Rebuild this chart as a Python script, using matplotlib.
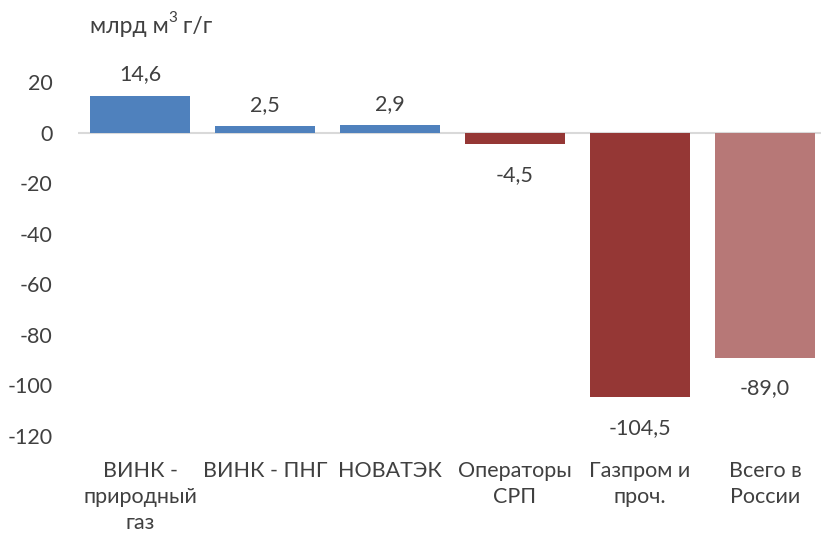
import matplotlib
matplotlib.use("Agg")
import matplotlib.pyplot as plt

categories = ["ВИНК -\nприродный\nгаз", "ВИНК - ПНГ", "НОВАТЭК", "Операторы\nСРП", "Газпром и\nпроч.", "Всего в\nРоссии"]
values = [14.6, 2.5, 2.9, -4.5, -104.5, -89.0]
colors = ["#4F81BD", "#4F81BD", "#4F81BD", "#953735", "#953735", "#B77877"]
yticks = [20, 0, -20, -40, -60, -80, -100, -120]
unit_parts = ["млрд м", "3", " г/г"]

plt.rcParams['font.family'] = ['Lato', 'DejaVu Sans']
txt = "#404040"
fs = 15.5

fig = plt.figure(figsize=(8.21, 5.34), dpi=100)
W, H = 821, 534
left = 77.5 / W
width = 750 / W
bottom = 1 - 448.6 / H
height = 379.3 / H
ax = fig.add_axes([left, bottom, width, height])

x = list(range(len(values)))
ax.bar(x, values, width=0.8, color=colors, zorder=2)
ax.axhline(0, color="#D9D9D9", lw=1.5, zorder=1)
ax.set_xlim(-0.5, 5.5)
ax.set_ylim(-125, 25)
ax.set_yticks(yticks)
ax.set_yticklabels([str(t) for t in yticks], fontsize=fs, color=txt)
ax.tick_params(axis='y', length=0, pad=18)
ax.set_xticks([])
for s in ax.spines.values():
    s.set_visible(False)

for xi, v in zip(x, values):
    lab = f"{v:.1f}".replace(".", ",")
    if v >= 0:
        ax.annotate(lab, (xi, v), xytext=(0, 8), textcoords="offset points",
                    ha="center", va="bottom", fontsize=fs, color=txt)
    else:
        ax.annotate(lab, (xi, v), xytext=(0, -15), textcoords="offset points",
                    ha="center", va="top", fontsize=fs, color=txt)

for xi, c in zip(x, categories):
    ax.annotate(c, (xi, 1 - 461 / H), xycoords=("data", "figure fraction"),
                ha="center", va="top", fontsize=fs, color=txt,
                linespacing=1.38, annotation_clip=False)

# unit label with superscript
tfs = 16.5
fig.canvas.draw()
r = fig.canvas.get_renderer()
t1 = fig.text(90 / W, 1 - 33 / H, unit_parts[0], fontsize=tfs, color=txt, ha="left", va="baseline")
bb = t1.get_window_extent(r)
t2 = fig.text((bb.x1) / W, 1 - 22 / H, unit_parts[1], fontsize=tfs * 0.66, color=txt, ha="left", va="baseline")
bb2 = t2.get_window_extent(r)
fig.text((bb2.x1 - 1) / W, 1 - 33 / H, unit_parts[2], fontsize=tfs, color=txt, ha="left", va="baseline")

fig.savefig("out.png", dpi=100)
